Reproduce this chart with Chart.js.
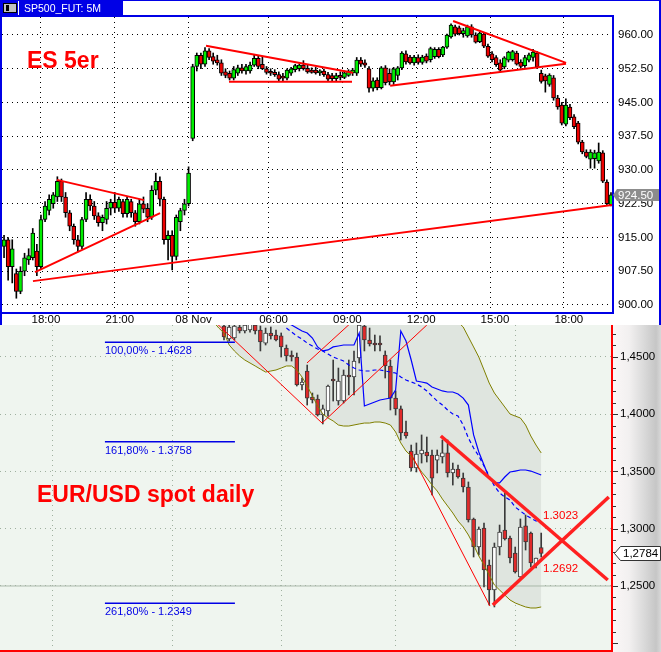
<!DOCTYPE html>
<html>
<head>
<meta charset="utf-8">
<script src="https://cdn.jsdelivr.net/npm/chart.js@4.4.1/dist/chart.umd.min.js"></script>
<style>
  body { margin: 0; background: #fff; width: 661px; height: 652px; overflow: hidden; position: relative; }
  #esChart { position: absolute; left: 0; top: 0; z-index: 2; }
  #fxChart { position: absolute; left: 0; top: 309px; z-index: 1; }
</style>
</head>
<body>
<canvas id="esChart" width="661" height="325"></canvas>
<canvas id="fxChart" width="661" height="357"></canvas>
<script>
// ---- ES 5 minute futures (top panel), one candle = two 5-min slots ----
const esOpen  = [913,914.5,908.5,907,903,907.5,910,910.5,912,908.5,919,921,922.5,924,927.5,924,920.5,917.5,914.5,913,
  919,923.5,922,919.8,918.3,919,921.5,922.8,921.5,923,920.3,923,920.5,918.5,922.5,921.5,919.5,925.5,927.5,923.5,
  914.5,915.5,910.8,918.5,921,922.5,937,953,955.5,953.5,956.5,955.2,954.5,953.8,951.8,951.5,950.4,951.5,952.7,952,
  952,953.3,954.8,953.5,952.5,951.8,951.7,951.2,950.5,950.4,951.5,952.3,952.5,953.3,952.6,952.2,952.2,951.6,952,951.2,
  951,950.3,951,950.6,951,951.6,951.5,954.4,953.8,952.5,948.2,950,948.3,952.7,951.5,949.6,951,952.7,955.8,955.1,
  953.8,955,953.9,955.3,954.5,955.2,956.8,955.6,957.3,959.6,961.8,961.6,960.3,959.8,961.8,960,958.5,960.2,957.5,955.8,
  955,953.8,952.9,954.4,954.5,956,954,953.2,954.4,955,956,951.5,950.9,949,950.5,946,944.4,940.2,944,941.8,
  940.4,936.2,934,932.4,932.5,932,933.8,927.3,922.3];
const esHigh  = [915.5,915,914.5,908,908.5,911.5,912.5,917,913.5,920,923,924.5,925,928.5,928,925,921,918,915.5,919.5,
  925,924.5,923,920.5,920,923,923.5,925,924,923.5,924,923.5,921,923.5,924,922.5,926.5,929.3,928.5,924,
  916.5,916.5,920,921.5,923.5,930.7,953.5,956,956,957.2,957,956,955.5,954.5,952.5,952,953,953.3,953.5,953.5,
  954,955.6,955.3,955.2,953,952.5,952.3,951.8,951.5,952.5,952.8,953.5,953.6,954.3,953.3,952.7,952.8,952.3,952.4,951.7,
  951.5,951.5,951.8,952,952.3,952.6,955,955,954.5,953,950.5,950.5,953,953.2,952.5,952.8,953,956.3,956.5,955.5,
  955.5,955.6,955.5,955.8,957.3,957.2,957.2,957.5,960.2,962.5,962.2,962,961.5,962.2,962.3,960.5,960.6,960.6,958,956.3,
  955.4,954.5,955.2,956.4,956.6,956.4,954.5,955.5,956,956.8,956.3,952.2,951.3,951.4,951,946.6,945,945.8,944.6,942.3,
  940.8,936.6,934.5,934.5,934.4,936,934.3,927.8,925];
const esLow   = [910.5,905.5,904.9,901.5,902.5,906.5,909,910,906.5,908,918.5,920,921.5,923,923,919.5,916.5,913.5,911.8,912.5,
  918.5,921,919,917.5,916.5,918,920,920.5,920.8,919.5,919.5,919.5,917.5,918,920.5,918.5,919,924.5,922,913.5,
  910,907.8,910,916.5,920,922,936.5,952,952.5,953,954.5,953.5,953.3,951,950.5,950,950,951,951.5,951.3,
  951.5,953,952.5,952.3,951.3,951,950.8,949.8,949.8,950,951,951.8,952,952.2,951.5,951.5,951.3,951,950.8,949.8,
  949.8,949.8,950,950.3,950.8,951,951,953,952.8,947.3,947.5,947.8,948,948.9,948.9,949,950,952.3,953.5,953.5,
  953.3,953.5,953.5,953.8,954,954.8,954.9,955.2,957,959.3,959.8,960,959.5,959.5,959.5,958.2,958.3,957.2,955,954,
  953,951.8,952.5,954,954.2,953.3,952.6,952.8,954,954.2,952.5,949.3,947.3,948.6,945.5,943.5,940,939.8,941.2,939.2,
  935.8,933.6,932.7,930.4,930.4,931.5,927.2,922.2,922];
const esClose = [914.5,908.5,912.5,903,907.5,910.5,911,916,908.5,919,922,923.5,924.5,927.5,924,920.5,917.5,914.5,913,919,
  923.5,922,919.8,918.3,919.5,921.5,922.8,921.5,923.5,920.3,923.5,920.5,918.5,922.5,921.3,919.5,925.5,927.5,923.5,914.5,
  915.5,910.8,919.5,921,922.5,929.3,953,955.5,953.5,956.5,955,954.2,953.8,951.5,951,950.4,952.3,952.7,952,953,
  953.3,954.8,953,952.5,951.7,951.5,951.2,950.2,950.4,952.2,952.5,953.2,953.3,952.5,951.8,951.7,951.6,952,951.2,950.2,
  950.3,951,950.6,951.6,952,952.2,954.4,953.5,953.3,948.2,949.8,948.3,952.7,949.4,949.6,952.5,952.7,956,954,953.8,
  955.1,953.9,955.1,954.2,957,956.8,955.2,957.3,960,962.2,960.2,960.3,961,961.8,960,958.4,960.4,957.5,955.3,954.5,
  953.4,952.2,954.9,956.2,956.3,953.5,953,955,955.6,956.2,952.9,949.7,949.8,951.1,946,944,940.4,944.4,941.6,939.6,
  936.2,934,933,934,933.8,934,927.5,922.5,924.5];
const esTimeSlots  = [19, 55, 91, 130, 166, 202, 238, 274];
const esTimeLabels = ['18:00', '21:00', '08 Nov', '06:00', '09:00', '12:00', '15:00', '18:00'];
const esPriceTicks = [900, 907.5, 915, 922.5, 930, 937.5, 945, 952.5, 960];
const esLast = 924.5;
// trend lines as [slot, price] pairs
const esTrendLines = [
  [[26.8, 927.8], [69.3, 923.3]],
  [[16.1, 907.3], [77.1, 920.4]],
  [[15.1, 905.3], [297.6, 922.2]],
  [[99.5, 957.6], [171.2, 951.6]],
  [[110.7, 949.6], [170.7, 949.6]],
  [[220.0, 963.1], [275.1, 953.8]],
  [[189.3, 948.7], [275.1, 953.6]]
];

// ---- EUR/USD daily (bottom panel), day index 0 = first visible candle ----
const fxOpen  = [1.4769,1.4655,1.4664,1.4760,1.4725,1.4734,1.4777,1.4734,1.4620,1.4708,1.4690,1.4682,1.4577,1.4516,1.4498,1.4254,
  1.4376,1.4149,1.4132,1.3992,1.4027,1.4306,1.4114,1.4114,1.4341,1.4324,1.4490,1.4769,1.4647,1.4620,1.4620,1.4516,1.4420,1.4140,
  1.4045,1.3844,1.3678,1.3530,1.3652,1.3669,1.3643,1.3599,1.3626,1.3661,1.3486,1.3521,1.3442,1.3364,1.3085,1.2840,1.3006,1.2683,
  1.2465,1.2840,1.2989,1.2919,1.2788,1.2579,1.3024,1.2962,1.2683,1.2835];
const fxHigh  = [1.4804,1.4786,1.4804,1.4786,1.4812,1.4821,1.4812,1.4769,1.4751,1.4760,1.4734,1.4708,1.4603,1.4551,1.4533,1.4315,
  1.4428,1.4184,1.4167,1.4079,1.4254,1.4472,1.4402,1.4385,1.4472,1.4551,1.4786,1.4786,1.4751,1.4690,1.4682,1.4551,1.4472,1.4202,
  1.4071,1.3940,1.3730,1.3748,1.3818,1.3800,1.3687,1.3687,1.3774,1.3774,1.3573,1.3556,1.3486,1.3408,1.3093,1.3015,1.3050,1.2727,
  1.2875,1.3032,1.3312,1.2936,1.2840,1.3085,1.3120,1.2971,1.2744,1.2962];
const fxLow   = [1.4647,1.4638,1.4647,1.4708,1.4708,1.4716,1.4699,1.4551,1.4603,1.4655,1.4638,1.4498,1.4463,1.4463,1.4245,1.4210,
  1.4079,1.4097,1.3983,1.3914,1.3983,1.4114,1.4079,1.4097,1.4167,1.4167,1.4446,1.4551,1.4594,1.4551,1.4551,1.4315,1.4036,1.3992,
  1.3774,1.3791,1.3503,1.3495,1.3573,1.3582,1.3294,1.3486,1.3573,1.3451,1.3381,1.3442,1.3320,1.3058,1.2753,1.2771,1.2491,1.2334,
  1.2317,1.2771,1.2901,1.2701,1.2613,1.2570,1.2814,1.2666,1.2657,1.2753];
const fxClose = [1.4673,1.4760,1.4769,1.4725,1.4777,1.4786,1.4725,1.4629,1.4708,1.4682,1.4647,1.4586,1.4507,1.4498,1.4254,1.4280,
  1.4140,1.4123,1.3992,1.4045,1.4245,1.4289,1.4289,1.4341,1.4324,1.4463,1.4777,1.4647,1.4612,1.4603,1.4603,1.4420,1.4140,1.4045,
  1.3835,1.3809,1.3530,1.3652,1.3687,1.3634,1.3442,1.3643,1.3661,1.3486,1.3521,1.3451,1.3364,1.3076,1.2840,1.2997,1.2640,1.2465,
  1.2840,1.2971,1.2910,1.2744,1.2622,1.3015,1.2884,1.2701,1.2744,1.2784];
const fxBandStart = -2;
const fxUpperBand = [1.618,1.616,1.611,1.607,1.604,1.598,1.594,1.590,1.585,1.583,1.579,1.574,1.571,1.566,1.562,1.558,
  1.553,1.549,1.546,1.541,1.537,1.533,1.530,1.526,1.523,1.519,1.517,1.514,1.512,1.509,1.507,1.505,1.504,1.502,1.501,1.500,
  1.499,1.498,1.497,1.496,1.495,1.494,1.492,1.490,1.488,1.486,1.483,1.4804,1.4760,1.4673,1.4586,1.4498,1.4385,1.4271,
  1.4184,1.4123,1.4062,1.4001,1.3983,1.3966,1.3905,1.3809,1.3730,1.3661];
const fxLowerBand = [1.4804,1.4751,1.4708,1.4603,1.4551,1.4507,1.4472,1.4446,1.4420,1.4393,1.4367,1.4376,1.4385,1.4402,1.4420,
  1.4420,1.4385,1.4324,1.4245,1.4158,1.4071,1.4001,1.3966,1.3940,1.3905,1.3896,1.3896,1.3905,1.3914,1.3922,1.3922,1.3931,1.3931,
  1.3922,1.3905,1.3844,1.3748,1.3678,1.3634,1.3565,1.3495,1.3442,1.3381,1.3329,1.3259,1.3198,1.3137,1.3067,1.3015,1.2945,1.2858,
  1.2762,1.2683,1.2596,1.2509,1.2465,1.2421,1.2378,1.2352,1.2334,1.2317,1.2308,1.2308,1.2317];
const fxLineStart = 12;
const fxBlueLine = [1.4800,1.4777,1.4751,1.4725,1.4708,1.4664,1.4586,1.4551,1.4560,1.4586,1.4594,1.4603,1.4603,1.4603,1.4708,
  1.4071,1.4088,1.4106,1.4123,1.4132,1.4140,1.4210,1.4725,1.4638,1.4472,1.4289,1.4280,1.4271,1.4237,1.4219,1.4202,1.4193,1.4193,
  1.4175,1.4140,1.4079,1.3818,1.3669,1.3556,1.3442,1.3399,1.3399,1.3451,1.3495,1.3503,1.3512,1.3512,1.3503,1.3486,1.3469];
const fxBlueDash = [1.4751,1.4716,1.4682,1.4655,1.4620,1.4594,1.4568,1.4551,1.4524,1.4498,1.4481,1.4463,1.4428,1.4402,1.4385,
  1.4376,1.4376,1.4385,1.4385,1.4376,1.4367,1.4359,1.4324,1.4297,1.4280,1.4263,1.4237,1.4202,1.4158,1.4114,1.4079,1.4036,1.4001,
  1.3983,1.3905,1.3791,1.3704,1.3634,1.3547,1.3460,1.3373,1.3312,1.3277,1.3250,1.3189,1.3154,1.3120,1.3093,1.3067,1.3050];
const fxPriceTicks = [1.25, 1.30, 1.35, 1.40, 1.45];
const fxMonthGrid = [-33, -10, 11, 33, 56];
const fxLevel = 1.25;
const fxFibLevels = [['100,00%', 1.4628], ['161,80%', 1.3758], ['261,80%', 1.2349]];
const fxFibSpan = [-22.9, 2.1];
const fxThinLines = [
  [[-2.7, 1.4847], [18.85, 1.3922]],
  [[18.85, 1.3922], [39.0, 1.4777]],
  [[15.96, 1.4446], [24.5, 1.4800]],
  [[35.8, 1.3669], [51.15, 1.2325]]
];
const fxThickLines = [
  [[41.7, 1.3809], [73.8, 1.2552]],
  [[51.7, 1.2334], [74.0, 1.3277]]
];
const fxTargets = [['1.3023', 61.35, 1.3023, -7], ['1.2692', 61.35, 1.2692, 8]];
const fxLast = 1.2784;

const SANS = '"Liberation Sans", Arial, sans-serif';
const AXIS_FONT = { family: SANS, size: 11.5 };
const BLUE = '#0000e6';

const seg = (pts, color, width, order) => ({
  type: 'line', data: pts.map(p => ({ x: p[0], y: p[1] })), borderColor: color, borderWidth: width,
  pointRadius: 0, fill: false, tension: 0, order
});

// ---------------- top chart ----------------
const esSlot = i => 1 + 2 * i;

const esDecor = {
  id: 'esDecor',
  beforeDraw(chart) {
    const c = chart.ctx;
    c.save();
    c.fillStyle = '#fff';
    c.fillRect(0, 0, chart.width, chart.height);
    c.restore();
  },
  afterDraw(chart) {
    const c = chart.ctx, a = chart.chartArea, W = chart.width, H = chart.height;
    c.save();
    c.fillStyle = BLUE;
    c.fillRect(0, 0, W, 1);
    c.fillRect(0, 15, a.right + 1, 2);
    c.fillRect(0, 0, 2, H);
    c.fillRect(a.right, 15, 2, a.bottom - 13);
    c.fillRect(0, a.bottom, a.right + 2, 2);
    c.fillRect(W - 2, 0, 2, H);
    // title tab
    c.fillRect(0, 0, 123, 16);
    c.fillStyle = '#c0c0c0';
    c.fillRect(3, 3, 14, 10);
    c.strokeStyle = '#000';
    c.lineWidth = 1;
    c.strokeRect(3.5, 3.5, 13, 9);
    c.fillStyle = '#000';
    c.fillRect(6, 5, 3, 6);
    c.fillStyle = '#fff';
    c.fillRect(18, 1, 1, 14);
    c.font = '10.5px ' + SANS;
    c.textBaseline = 'alphabetic';
    c.fillText('SP500_FUT: 5M', 24, 12);
    // caption
    c.fillStyle = '#ff0000';
    c.font = 'bold 23px ' + SANS;
    c.fillText('ES 5er', 27, 68);
    // last price marker
    const py = Math.round(chart.scales.y.getPixelForValue(esLast));
    c.fillStyle = '#8c8c8c';
    c.beginPath();
    c.moveTo(a.right + 1, py);
    c.lineTo(a.right + 5, py - 6);
    c.lineTo(W - 2, py - 6);
    c.lineTo(W - 2, py + 6);
    c.lineTo(a.right + 5, py + 6);
    c.closePath();
    c.fill();
    c.fillStyle = '#fff';
    c.font = '11.5px ' + SANS;
    c.textBaseline = 'middle';
    c.fillText(esLast.toFixed(2), a.right + 6, py + 1);
    c.restore();
  }
};

new Chart(document.getElementById('esChart'), {
  type: 'bar',
  data: {
    datasets: [
      ...esTrendLines.map(l => seg(l, '#ff0000', 2, 0)),
      {
        type: 'bar',
        data: esOpen.map((o, i) => ({ x: esSlot(i), y: [o, esClose[i]] })),
        backgroundColor: esOpen.map((o, i) => esClose[i] >= o ? '#00ee00' : '#ee0000'),
        borderColor: '#000', borderWidth: 1, borderSkipped: false,
        barThickness: 4, minBarLength: 2, grouped: false, order: 2
      },
      {
        type: 'bar',
        data: esOpen.map((o, i) => ({ x: esSlot(i), y: [esLow[i], esHigh[i]] })),
        backgroundColor: '#000', barThickness: 1, grouped: false, order: 3
      }
    ]
  },
  options: {
    responsive: false, animation: false, devicePixelRatio: 1,
    layout: { autoPadding: false, padding: { left: 2, top: 17, right: 0, bottom: 0 } },
    plugins: { legend: { display: false }, tooltip: { enabled: false } },
    scales: {
      x: {
        type: 'linear', min: 0, max: 297.5, offset: false,
        grid: { offset: false, color: '#000', drawTicks: false, lineWidth: 1 },
        border: { display: false, dash: [1, 4] },
        afterBuildTicks: ax => { ax.ticks = esTimeSlots.map(v => ({ value: v })); },
        afterFit: ax => { ax.height = 13; },
        ticks: {
          autoSkip: false, maxRotation: 0, padding: 1, labelOffset: 5, color: '#000', font: AXIS_FONT,
          callback: v => esTimeLabels[esTimeSlots.indexOf(v)]
        }
      },
      y: {
        position: 'right', min: 898.44, max: 964, beginAtZero: false,
        grid: { color: '#000', drawTicks: false, lineWidth: 1 },
        border: { display: false, dash: [1, 4] },
        afterBuildTicks: ax => { ax.ticks = esPriceTicks.map(v => ({ value: v })); },
        afterFit: ax => { ax.width = 49; },
        ticks: { padding: 6, color: '#000', font: AXIS_FONT, callback: v => v.toFixed(2) }
      }
    }
  },
  plugins: [esDecor]
});

// ---------------- bottom chart ----------------
// canvas reaches 16px above and below the visible panel so the axis label padding falls outside it
const fxDays = fxOpen.map((_, j) => j);

const fxDecor = {
  id: 'fxDecor',
  beforeDraw(chart) {
    const c = chart.ctx, a = chart.chartArea, W = chart.width, H = chart.height;
    c.save();
    c.fillStyle = '#eff5ef';
    c.fillRect(0, 0, W, H);
    const g = c.createLinearGradient(a.right, 0, W, 0);
    g.addColorStop(0, '#fbf7f7');
    g.addColorStop(0.35, '#f2f0f0');
    g.addColorStop(0.65, '#dadada');
    g.addColorStop(0.9, '#c6c6c6');
    g.addColorStop(1, '#d8d8d8');
    c.fillStyle = g;
    c.fillRect(a.right, 0, W - a.right, H);
    c.restore();
  },
  afterDatasetsDraw(chart) {
    const c = chart.ctx, a = chart.chartArea, xs = chart.scales.x, ys = chart.scales.y;
    c.save();
    c.fillStyle = BLUE;
    c.font = '11px ' + SANS;
    c.textBaseline = 'alphabetic';
    fxFibLevels.forEach(([pct, v]) => {
      c.fillText(pct + ' - ' + v.toFixed(4), xs.getPixelForValue(fxFibSpan[0]), ys.getPixelForValue(v) + 12);
    });
    c.fillStyle = '#ff0000';
    c.font = '11.5px ' + SANS;
    fxTargets.forEach(([t, d, v, dy]) => {
      c.fillText(t, xs.getPixelForValue(d), ys.getPixelForValue(v) + dy);
    });
    c.font = 'bold 23px ' + SANS;
    c.fillText('EUR/USD spot daily', 37, a.top + 177);
    c.restore();
  },
  afterDraw(chart) {
    const c = chart.ctx, a = chart.chartArea, ys = chart.scales.y, W = chart.width;
    c.save();
    // axis ticks
    c.fillStyle = '#333';
    for (let k = 119; k <= 148; k++) {
      const py = Math.round(ys.getPixelForValue(k / 100));
      if (py < a.top || py > a.bottom) continue;
      c.fillRect(a.right + 1, py, k % 5 === 0 ? 5 : 3, 1);
    }
    // red frame
    c.fillStyle = '#ff0000';
    c.fillRect(a.right - 1, a.top, 2, a.bottom - a.top + 1);
    c.fillRect(0, a.bottom, a.right + 1, 2);
    // last price marker
    const py = Math.round(ys.getPixelForValue(fxLast));
    c.beginPath();
    c.moveTo(a.right + 2.5, py + 0.5);
    c.lineTo(a.right + 8.5, py - 6.5);
    c.lineTo(W - 0.5, py - 6.5);
    c.lineTo(W - 0.5, py + 7.5);
    c.lineTo(a.right + 8.5, py + 7.5);
    c.closePath();
    c.fillStyle = '#fff';
    c.fill();
    c.strokeStyle = '#333';
    c.lineWidth = 1;
    c.stroke();
    c.fillStyle = '#000';
    c.font = '11.5px ' + SANS;
    c.textBaseline = 'middle';
    c.fillText(fxLast.toFixed(4).replace('.', ','), a.right + 11, py + 1);
    c.restore();
  }
};

new Chart(document.getElementById('fxChart'), {
  type: 'bar',
  data: {
    datasets: [
      {
        type: 'bar',
        data: fxDays.map(j => ({ x: j, y: [fxLow[j], fxHigh[j]] })),
        backgroundColor: '#3a3a3a', barThickness: 1, grouped: false, order: 6
      },
      {
        type: 'bar',
        data: fxDays.map(j => ({ x: j, y: [fxOpen[j], fxClose[j]] })),
        backgroundColor: fxDays.map(j => fxClose[j] >= fxOpen[j] ? '#ffffff' : '#e02a2a'),
        borderColor: '#3a3a3a', borderWidth: 1, borderSkipped: false,
        barThickness: 4, minBarLength: 2, grouped: false, order: 5
      },
      seg([[-44, fxLevel], [75, fxLevel]], '#aab8aa', 1, 7),
      {
        type: 'line', data: fxLowerBand.map((v, k) => ({ x: k + fxBandStart, y: v })),
        borderColor: '#808000', borderWidth: 1, pointRadius: 0, tension: 0, fill: false, order: 3
      },
      {
        type: 'line', data: fxUpperBand.map((v, k) => ({ x: k + fxBandStart, y: v })),
        borderColor: '#808000', borderWidth: 1, pointRadius: 0, tension: 0,
        fill: '-1', backgroundColor: '#dfe5df', order: 3
      },
      {
        type: 'line', data: fxBlueDash.map((v, k) => ({ x: k + fxLineStart, y: v })),
        borderColor: '#0000ff', borderWidth: 1.2, borderDash: [4, 3], pointRadius: 0, tension: 0, fill: false, order: 2
      },
      {
        type: 'line', data: fxBlueLine.map((v, k) => ({ x: k + fxLineStart, y: v })),
        borderColor: '#0000ff', borderWidth: 1.2, pointRadius: 0, tension: 0, fill: false, order: 2
      },
      ...fxFibLevels.map(([, v]) => seg([[fxFibSpan[0], v], [fxFibSpan[1], v]], BLUE, 1.5, 1)),
      ...fxThinLines.map(l => seg(l, '#ff0000', 1, 1)),
      ...fxThickLines.map(l => seg(l, '#ff2020', 3.5, 0))
    ]
  },
  options: {
    responsive: false, animation: false, devicePixelRatio: 1,
    layout: { autoPadding: false, padding: { left: 0, top: 16, right: 0, bottom: 16 } },
    plugins: { legend: { display: false }, tooltip: { enabled: false }, filler: { drawTime: 'beforeDatasetsDraw' } },
    scales: {
      x: {
        type: 'linear', min: -43.077, max: 74.615, offset: false,
        grid: { offset: false, color: '#9fb09f', drawTicks: false, lineWidth: 1 },
        border: { display: false, dash: [1, 4] },
        ticks: { display: false },
        afterBuildTicks: ax => { ax.ticks = fxMonthGrid.map(v => ({ value: v })); },
        afterFit: ax => { ax.height = 0; }
      },
      y: {
        position: 'right', min: 1.19415, max: 1.47775, beginAtZero: false,
        grid: { color: '#9fb09f', drawTicks: false, lineWidth: 1 },
        border: { display: false, dash: [1, 4] },
        afterBuildTicks: ax => { ax.ticks = fxPriceTicks.map(v => ({ value: v })); },
        afterFit: ax => { ax.width = 49; },
        ticks: { padding: 8, color: '#000', font: AXIS_FONT, callback: v => v.toFixed(4).replace('.', ',') }
      }
    }
  },
  plugins: [fxDecor]
});
</script>
</body>
</html>
